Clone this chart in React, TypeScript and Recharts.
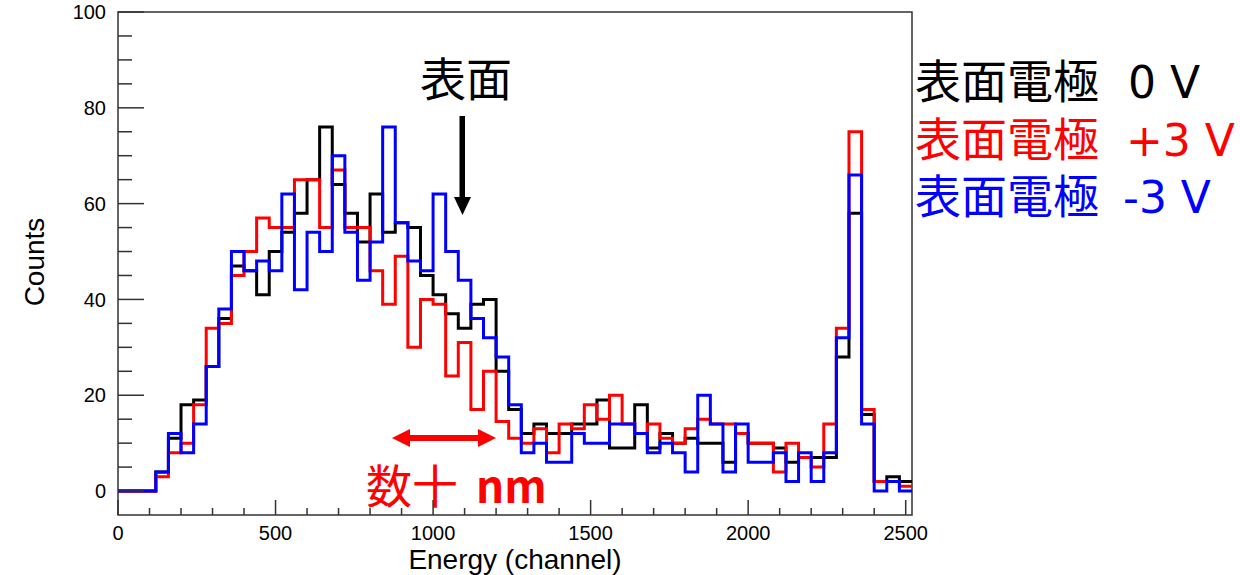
import { ComposedChart, Line, XAxis, YAxis, ReferenceArea } from 'recharts';

// 63 bins of 40 channels, 0..2520
const binStarts = Array.from({ length: 63 }, (_, i) => i * 40);

const counts0V = [
  0, 0, 0, 4, 11, 18, 19, 26, 36, 47, 46, 41, 50, 54, 58, 65,
  76, 64, 58, 52, 62, 54, 56, 55, 45, 41, 37, 34, 39, 40, 25, 17,
  12, 14, 12, 12, 14, 14, 19, 9, 9, 18, 9, 12, 10, 11, 10, 10,
  6, 12, 10, 10, 9, 6, 7, 7, 7, 28, 58, 16, 2, 3, 2,
];
const countsPlus3V = [
  0, 0, 0, 3, 8, 10, 18, 34, 35, 45, 50, 57, 55, 55, 65, 65,
  55, 67, 55, 55, 46, 39, 49, 30, 40, 39, 24, 31, 17, 25, 14.5, 11,
  10, 13, 8, 14, 13, 18, 15, 20, 14, 12, 14, 11, 10, 13, 15, 14,
  14, 12, 10, 10, 4, 10, 7, 5, 14, 34, 75, 17, 2, 2, 1,
];
const countsMinus3V = [
  0, 0, 0, 4, 12, 8, 14, 26, 38, 50, 46, 48, 46, 62, 42, 54,
  50, 70, 54, 44, 52, 76, 56, 48, 46, 62, 50, 44, 36, 32, 28, 18,
  8, 10, 6, 6, 12, 10, 10, 14, 14, 12, 8, 10, 8, 4, 20, 14,
  4, 14, 6, 6, 8, 2, 8, 2, 8, 32, 66, 14, 0, 2, 0,
];

const xTicks = [
  0, 100, 200, 300, 400, 500, 600, 700, 800, 900, 1000, 1100, 1200,
  1300, 1400, 1500, 1600, 1700, 1800, 1900, 2000, 2100, 2200, 2300, 2400, 2500,
];
const yTicks = [0, 5, 10, 15, 20, 25, 30, 35, 40, 45, 50, 55, 60, 65, 70, 75, 80, 85, 90, 95, 100];

const seriesLabels = ['表面電極', '表面電極', '表面電極'];
const seriesVoltages = ['0 V', '+3 V', '-3 V'];
const seriesColors = ['#000000', '#ff0000', '#0000ff'];

const X_MAX = 2520;
const PLOT_LEFT = 118;
const PLOT_BOTTOM = 515;
const AXIS_FONT = '"Liberation Sans", Arial, Helvetica, sans-serif';
const JP_FONT = '"Noto Sans CJK JP", "Noto Sans", sans-serif';
const LATIN_FONT = '"DejaVu Sans", Verdana, sans-serif';

const data = binStarts.map((ch, i) => ({
  ch,
  v0: counts0V[i],
  vp: countsPlus3V[i],
  vm: countsMinus3V[i],
}));
// closing point so the last bin is drawn up to the frame
data.push({
  ch: X_MAX,
  v0: counts0V[counts0V.length - 1],
  vp: countsPlus3V[countsPlus3V.length - 1],
  vm: countsMinus3V[countsMinus3V.length - 1],
});

const XTick = ({ x, payload }: any) => {
  const v = payload.value;
  const major = v % 500 === 0;
  return (
    <g>
      <line x1={x} x2={x} y1={PLOT_BOTTOM} y2={PLOT_BOTTOM - (major ? 15 : 7)} stroke="#333" strokeWidth={1.5} />
      {major && (
        <text x={x} y={PLOT_BOTTOM + 25} textAnchor="middle" fontSize={20} fontFamily={AXIS_FONT} fill="#000">
          {v}
        </text>
      )}
    </g>
  );
};

const YTick = ({ y, payload }: any) => {
  const v = payload.value;
  const major = v % 20 === 0;
  return (
    <g>
      <line x1={PLOT_LEFT} x2={PLOT_LEFT + (major ? 26 : 14)} y1={y} y2={y} stroke="#333" strokeWidth={1.5} />
      {major && (
        <text x={106} y={y} dy="0.36em" textAnchor="end" fontSize={20} fontFamily={AXIS_FONT} fill="#000">
          {v}
        </text>
      )}
    </g>
  );
};

export default function App() {
  return (
    <div style={{ position: 'absolute', left: 0, top: 0, width: 1240, height: 575, background: '#fff', overflow: 'hidden' }}>
      <ComposedChart width={1240} height={575} data={data} margin={{ top: 12, right: 328, bottom: 0, left: 0 }}>
        <XAxis
          type="number"
          dataKey="ch"
          domain={[0, X_MAX]}
          ticks={xTicks}
          interval={0}
          height={60}
          tick={<XTick />}
          tickLine={false}
          axisLine={false}
          allowDataOverflow
        />
        <YAxis
          type="number"
          domain={[-5, 100]}
          ticks={yTicks}
          interval={0}
          width={118}
          tick={<YTick />}
          tickLine={false}
          axisLine={false}
          allowDataOverflow
        />
        <ReferenceArea x1={0} x2={X_MAX} y1={-5} y2={100} fill="none" stroke="#333" strokeWidth={1.5} ifOverflow="visible" />
        <Line type="stepAfter" dataKey="v0" stroke={seriesColors[0]} strokeWidth={3} dot={false} isAnimationActive={false} />
        <Line type="stepAfter" dataKey="vp" stroke={seriesColors[1]} strokeWidth={3} dot={false} isAnimationActive={false} />
        <Line type="stepAfter" dataKey="vm" stroke={seriesColors[2]} strokeWidth={3} dot={false} isAnimationActive={false} />
      </ComposedChart>

      <svg width={1240} height={575} style={{ position: 'absolute', left: 0, top: 0, pointerEvents: 'none' }}>
        <text transform="translate(44,262) rotate(-90)" textAnchor="middle" fontSize={28} fontFamily={AXIS_FONT} fill="#000">
          Counts
        </text>
        <text x={515} y={569} textAnchor="middle" fontSize={28} fontFamily={AXIS_FONT} fill="#000">
          Energy (channel)
        </text>

        {/* surface marker */}
        <text x={466} y={96} textAnchor="middle" fontSize={46} fontFamily={JP_FONT} fill="#000">
          表面
        </text>
        <rect x={459.5} y={116} width={5.5} height={84} fill="#000" />
        <polygon points="454,197 471,197 462.5,215" fill="#000" />

        {/* depth arrow */}
        <rect x={405} y={435} width={76} height={6} fill="#ff0000" />
        <polygon points="392,438 410,429 410,447" fill="#ff0000" />
        <polygon points="496,438 478,429 478,447" fill="#ff0000" />
        <text x={366} y={503} fontSize={46} fontFamily={JP_FONT} fill="#ff0000">
          数十
          <tspan x={476} fontSize={44} fontWeight={600} fontFamily={JP_FONT}>nm</tspan>
        </text>

        {seriesLabels.map((label, i) => (
          <text key={i} x={915} y={98 + i * 57.5} fontSize={46} fontFamily={JP_FONT} fill={seriesColors[i]}>
            {label}
            <tspan x={[1128, 1126, 1123][i]} fontFamily={LATIN_FONT} fontSize={44}>{seriesVoltages[i]}</tspan>
          </text>
        ))}
      </svg>
    </div>
  );
}
